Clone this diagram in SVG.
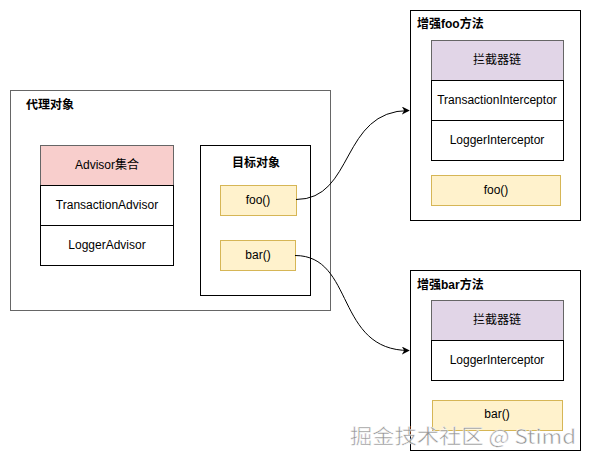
<svg xmlns="http://www.w3.org/2000/svg" width="591" height="461" viewBox="0 0 591 461">
<style>
text{font-family:"Liberation Sans","Noto Sans CJK SC",Arial,sans-serif;font-size:12px;fill:#000}
.t{font-weight:bold}
.c{text-anchor:middle;dominant-baseline:central}
.cont{fill:#fff;stroke:#000;stroke-width:1}
.grey{fill:#fff;stroke:#666;stroke-width:1}
.row{fill:#fff;stroke:#000;stroke-width:1}
.pink{fill:#f8cecc;stroke:#666}
.purple{fill:#e1d5e7;stroke:#666}
.yel{fill:#fff2cc;stroke:#d6b656}
.edge{fill:none;stroke:#000;stroke-width:1}
.wm{font-family:"Noto Sans CJK SC","Liberation Sans",sans-serif;font-size:20px;fill:#8a8a8a;stroke:#fff;stroke-width:0.5;opacity:0.9}
</style>
<defs>
<marker id="arr" viewBox="0 0 10 10" refX="9" refY="5" markerWidth="8" markerHeight="8" orient="auto" markerUnits="userSpaceOnUse">
<path d="M0 0 L10 5 L0 10 L3 5 Z" fill="#000"/>
</marker>
</defs>
<rect width="591" height="461" fill="#fff"/>
<g id="proxy">
<rect class="grey" x="10.5" y="90.5" width="320" height="220"/>
<text class="t" x="26" y="109">代理对象</text>
</g>
<g id="advisors">
<rect class="pink" x="40.5" y="145.5" width="133" height="40"/>
<text class="c" x="107" y="165">Advisor集合</text>
<rect class="row" x="40.5" y="185.5" width="133" height="40"/>
<text class="c" x="107" y="205">TransactionAdvisor</text>
<rect class="row" x="40.5" y="225.5" width="133" height="40"/>
<text class="c" x="107" y="245">LoggerAdvisor</text>
</g>
<g id="target">
<rect class="cont" x="200.5" y="145.5" width="110" height="150"/>
<text class="t c" x="256" y="163">目标对象</text>
</g>
<g id="foo">
<rect class="yel" x="220.5" y="185.5" width="76" height="30"/>
<text class="c" x="258" y="200">foo()</text>
</g>
<g id="bar">
<rect class="yel" x="220.5" y="240.5" width="75" height="30"/>
<text class="c" x="258" y="255">bar()</text>
</g>
<g id="enhanceFoo">
<rect class="cont" x="410.5" y="10.5" width="170" height="210"/>
<text class="t" x="417" y="28">增强foo方法</text>
<rect class="purple" x="431.5" y="40.5" width="132" height="40"/>
<text class="c" x="497" y="60">拦截器链</text>
<rect class="row" x="431.5" y="80.5" width="132" height="40"/>
<text class="c" x="497" y="100">TransactionInterceptor</text>
<rect class="row" x="431.5" y="120.5" width="132" height="40"/>
<text class="c" x="497" y="140">LoggerInterceptor</text>
<rect class="yel" x="431.5" y="175.5" width="129" height="30"/>
<text class="c" x="496" y="190">foo()</text>
</g>
<g id="enhanceBar">
<rect class="cont" x="410.5" y="270.5" width="170" height="180"/>
<text class="t" x="417" y="289">增强bar方法</text>
<rect class="purple" x="431.5" y="300.5" width="132" height="40"/>
<text class="c" x="497" y="320">拦截器链</text>
<rect class="row" x="431.5" y="340.5" width="132" height="40"/>
<text class="c" x="497" y="360">LoggerInterceptor</text>
<rect class="yel" x="432.5" y="400.5" width="130" height="30"/>
<text class="c" x="497" y="414">bar()</text>
</g>
<g id="connectors">
<path class="edge" d="M296 199.5 C 355 199.5, 340 110.5, 409 110.5" marker-end="url(#arr)"/>
<path class="edge" d="M295 255.5 C 355 255.5, 335 350.5, 409 350.5" marker-end="url(#arr)"/>
</g>
<text class="wm" x="350" y="444" textLength="226" lengthAdjust="spacingAndGlyphs">掘金技术社区 @ Stimd</text>
</svg>
